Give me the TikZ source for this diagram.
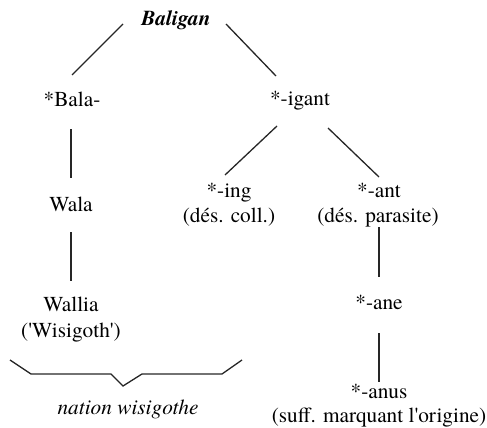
\documentclass[tikz,border=0pt]{standalone}
\usepackage{fontspec}
\setmainfont{TeX Gyre Termes}
\newcommand{\sq}{\textquotesingle}
\begin{document}
\begin{tikzpicture}[x=1pt,y=-1pt,
  lbl/.style={anchor=base,inner sep=0pt,font=\rmfamily\fontsize{21.3}{25}\selectfont,text=black},
  link/.style={line width=1.3pt,draw=black!85}]
\useasboundingbox (0,0) rectangle (487,428);
\node[lbl,font=\rmfamily\fontsize{21.3}{25}\selectfont\bfseries\itshape] (bal) at (176,26) {Baligan};
\node[lbl] (bala) at (72,106) {*Bala-};
\node[lbl] (igant) at (300,105) {*-igant};
\node[lbl] (wala) at (71,211) {Wala};
\node[lbl] (wallia) at (71,311) {Wallia};
\node[lbl] (walliab) at (71,337) {(\sq Wisigoth\sq)};
\node[lbl] (ing) at (229,197) {*-ing};
\node[lbl] (ingb) at (229,222) {(dés. coll.)};
\node[lbl] (ant) at (379,197) {*-ant};
\node[lbl] (antb) at (378,222) {(dés. parasite)};
\node[lbl] (ane) at (379,309) {*-ane};
\node[lbl] (anus) at (379,398) {*-anus};
\node[lbl] (anusb) at (379,422) {(suff. marquant l\sq origine)};
\node[lbl,font=\rmfamily\fontsize{21.3}{25}\selectfont\itshape] (nation) at (128,414) {nation wisigothe};
% connectors
\draw[link] ([shift={(-53,-2)}]bal.base) -- ([shift={(0,-31)}]bala.base);
\draw[link] ([shift={(50,-2)}]bal.base) -- ([shift={(-24,-29)}]igant.base);
\draw[link] ([shift={(-1,23)}]bala.base) -- ([shift={(0,-33)}]wala.base);
\draw[link] ([shift={(0,21)}]wala.base) -- ([shift={(0,-30)}]wallia.base);
\draw[link] ([shift={(-23,21)}]igant.base) -- ([shift={(-4,-22)}]ing.base);
\draw[link] ([shift={(28,23)}]igant.base) -- ([shift={(0,-20)}]ant.base);
\draw[link] ([shift={(1,5)}]antb.base) -- ([shift={(0,-32)}]ane.base);
\draw[link] ([shift={(0,24)}]ane.base) -- ([shift={(0,-16)}]anus.base);
% brace
\draw[link,line join=miter] (10,360) -- (31,374) -- (111,374) -- (123,386) -- (142,374) -- (222,374) -- (242,360);
\end{tikzpicture}
\end{document}
